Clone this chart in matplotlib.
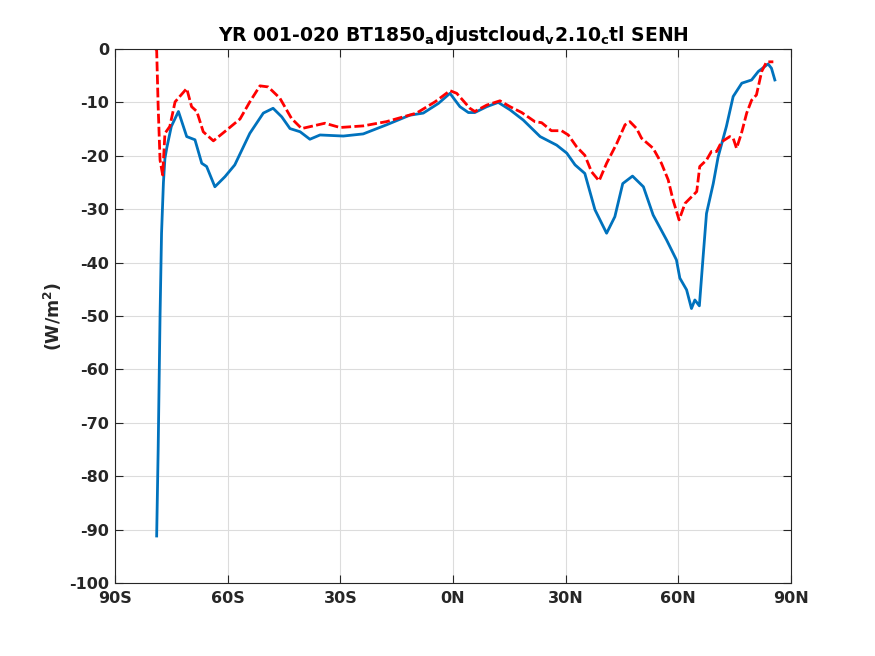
import numpy as np
import matplotlib
matplotlib.use("Agg")
import matplotlib.pyplot as plt

# Breitengrad und Werte (W/m^2)
lat_blau = [-78.9, -78.5, -78.0, -77.6, -77.1, -76.7, -76.2, -75.0, -73.1, -70.9, -68.7,
            -66.9, -65.6, -63.4, -60.7, -58.1, -54.1, -50.5, -47.9, -45.6, -43.4,
            -40.7, -38.1, -35.4, -29.2, -23.9, -17.7, -11.5, -7.9, -3.9, -0.8,
            1.85, 4.1, 5.8, 9.0, 12.05, 15.2, 18.7, 23.2, 27.6, 30.3, 32.5, 35.1,
            37.8, 40.9, 43.1, 45.2, 47.8, 50.7, 53.3, 56.9, 59.5, 60.4, 62.2, 63.5,
            64.4, 65.6, 66.6, 67.5, 69.3, 70.6, 72.8, 74.6, 76.9, 79.5, 81.3, 83.9,
            84.8, 85.7]
val_blau = [-91.2, -75.0, -50.0, -34.5, -25.0, -20.5, -18.5, -14.5, -11.7, -16.4, -17.0,
            -21.4, -22.0, -25.8, -23.9, -21.7, -15.8, -12.0, -11.1, -12.7, -14.9,
            -15.5, -16.9, -16.1, -16.3, -15.9, -14.2, -12.4, -12.0, -10.2, -8.3,
            -10.8, -11.9, -11.9, -10.8, -10.0, -11.4, -13.3, -16.4, -18.0, -19.5, -21.7, -23.3,
            -30.1, -34.5, -31.4, -25.2, -23.8, -25.8, -31.1, -35.8, -39.5, -42.9, -45.1, -48.6,
            -47.0, -48.1, -38.9, -30.8, -25.2, -20.2, -14.5, -8.9, -6.4, -5.8, -4.2, -2.8,
            -3.6, -5.8]

lat_rot = [-79.2, -78.9, -78.5, -78.0, -77.3, -76.7, -75.4, -74.0, -70.9, -69.6, -68.2,
           -66.5, -63.8, -60.3, -56.7, -54.1, -51.4, -49.2, -46.1, -43.0, -40.3,
           -34.1, -30.1, -23.9, -17.7, -9.7, -4.8, -0.8, 1.0, 4.5, 5.8, 9.0, 12.5,
           15.2, 18.3, 21.8, 23.6, 26.2, 28.9, 30.7, 32.9, 35.1, 36.9, 38.9, 40.9,
           43.6, 45.8, 47.1, 48.9, 50.2, 53.3, 55.5, 57.3, 58.6, 60.2, 61.8, 64.9,
           65.7, 67.5, 68.8, 70.2, 71.5, 73.7, 74.6, 75.5, 76.8, 78.2, 79.5, 80.8,
           82.2, 83.5, 85.3]
val_rot = [0.0, -0.2, -10.8, -20.8, -23.6, -15.8, -14.5, -9.9, -7.4, -10.8, -11.7,
           -15.5, -17.2, -15.2, -13.1, -9.9, -6.9, -7.1, -9.2, -13.0, -14.9,
           -13.9, -14.7, -14.4, -13.6, -12.0, -9.9, -7.8, -8.3, -11.1, -11.7, -10.5, -9.7,
           -10.8, -11.9, -13.6, -13.8, -15.3, -15.3, -16.1, -18.3, -19.9, -23.0, -24.7, -21.4,
           -17.7, -14.2, -13.6, -14.9, -16.7, -18.6, -21.4, -24.5, -28.3, -32.0, -28.9, -26.7,
           -22.0, -20.8, -19.2, -19.2, -17.4, -16.4, -16.7, -18.6, -15.8, -12.0, -9.6, -8.6,
           -4.2, -2.4, -2.4]

xticks = [-90, -60, -30, 0, 30, 60, 90]
xticklabels = ["90S", "60S", "30S", "0N", "30N", "60N", "90N"]
yticks = np.arange(-100, 1, 10)

plt.rcParams["font.family"] = "DejaVu Sans"
plt.rcParams["font.weight"] = "bold"

fig = plt.figure(figsize=(8.75, 6.56), dpi=100)
ax = fig.add_axes([0.1314, 0.1113, 0.7726, 0.814])

ax.plot(lat_blau, val_blau, color="#0072BD", linewidth=2)
ax.plot(lat_rot, val_rot, color="red", linestyle="--", linewidth=2, dashes=(3.5, 1.2))

ax.set_xlim(-90, 90)
ax.set_ylim(-100, 0)
ax.set_xticks(xticks)
ax.set_xticklabels(xticklabels, fontsize=11.5, fontweight="bold", color="#262626")
ax.set_yticks(yticks)
ax.set_yticklabels([str(v) for v in yticks], fontsize=11.5, fontweight="bold", color="#262626")
ax.tick_params(direction="in", top=True, right=True, length=6, color="#262626")
ax.tick_params(axis="x", pad=6)
ax.tick_params(axis="y", pad=4)
ax.grid(True, color="#dcdcdc", linewidth=0.8)
for s in ax.spines.values():
    s.set_color("#262626")

ax.set_ylabel(r"(W/m$^\mathbf{2}$)", fontsize=12.5, fontweight="bold", color="#262626")
ax.set_title(r"YR 001-020 BT1850$_\mathbf{a}$djustcloud$_\mathbf{v}$2.10$_\mathbf{c}$tl SENH",
             fontsize=13.5, fontweight="bold")

fig.savefig("out.png", dpi=100)
